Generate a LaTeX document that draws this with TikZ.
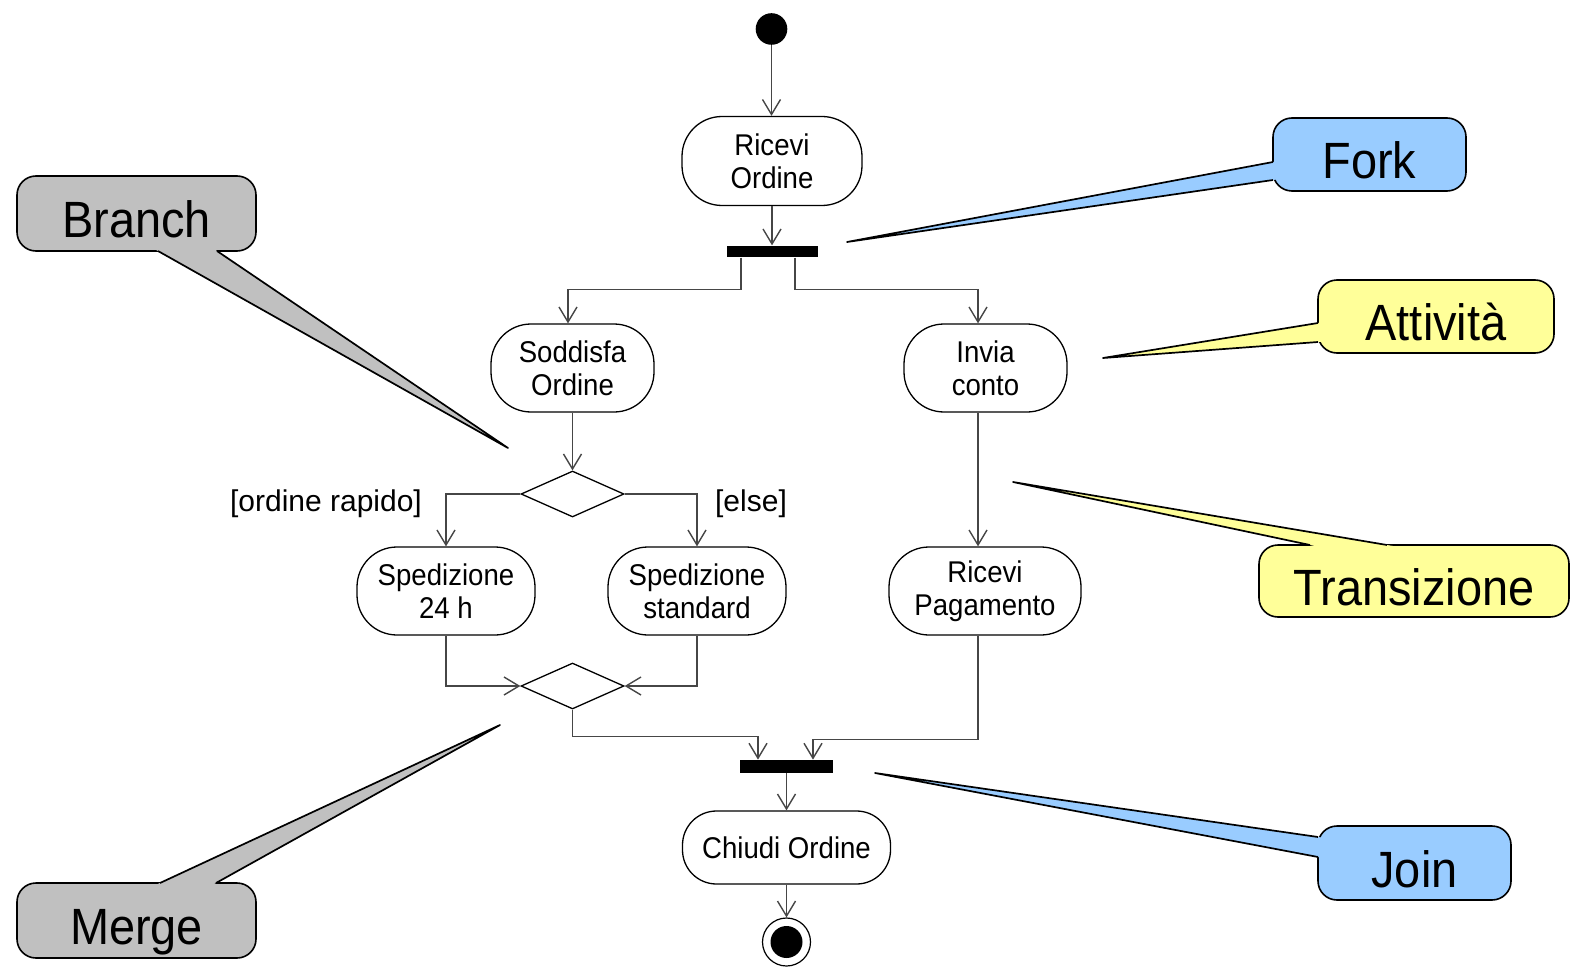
\documentclass[tikz,border=0pt]{standalone}
\usepackage{fontspec}
\setmainfont{Liberation Sans}
\newfontfamily\narrowsans[FakeStretch=0.92]{Liberation Sans}
\usetikzlibrary{shapes.geometric,arrows.meta,calc}

\definecolor{notegray}{RGB}{192,192,192}
\definecolor{noteblue}{RGB}{153,204,255}
\definecolor{noteyellow}{RGB}{255,255,153}
\definecolor{wire}{RGB}{70,70,70}

\begin{document}
\begin{tikzpicture}[x=0.5pt,y=-0.5pt,
  flow/.style={draw=wire, line width=0.7pt, -{Straight Barb[length=7.5pt,width=9pt]}},
  act/.style={draw, line width=0.65pt, rounded corners=20pt, align=center, inner sep=0pt,
              font=\narrowsans\fontsize{15}{16.5}\selectfont},
  syncbar/.style={fill=black, inner sep=0pt, minimum width=46pt, minimum height=5.75pt},
  choice/.style={diamond, draw, line width=0.65pt, inner sep=0pt, minimum width=51.5pt, minimum height=23pt},
  guard/.style={inner sep=0pt, font=\fontsize{15}{16.5}\selectfont},
  note/.style={draw, line width=0.8pt, rounded corners=9.5pt, inner sep=0pt,
               text height=24pt, text depth=0pt, font=\narrowsans\fontsize{25.5}{30}\selectfont},
  tail/.style={draw, line width=0.85pt, line join=round}]

\fill[white] (0,0) rectangle (1589,968);
\useasboundingbox (0,0) rectangle (1589,968);

% --- activity nodes ---
\node[circle, fill=black, inner sep=0pt, minimum size=15.8pt] (start) at (771.5,29) {};
\node[act, minimum width=90pt, minimum height=44.5pt] (ricevi) at (772,161) {Ricevi\\Ordine};
\node[syncbar, minimum width=45.5pt] (fork) at (772.5,251.5) {};
\node[act, minimum width=81.5pt, minimum height=44pt] (sodd) at (572.5,368) {Soddisfa\\Ordine};
\node[act, minimum width=81.5pt, minimum height=44pt] (invia) at (985.5,368) {Invia\\conto};
\node[choice] (branch) at (572.5,494) {};
\node[act, minimum width=89pt, minimum height=44pt] (sp24) at (446,591) {Spedizione\\24 h};
\node[act, minimum width=89pt, minimum height=44pt] (spstd) at (697,591) {Spedizione\\standard};
\node[act, minimum width=96pt, minimum height=44pt] (ricpag) at (985,591) {Ricevi\\Pagamento};
\node[choice] (merge) at (572.5,686) {};
\node[syncbar, minimum width=46.5pt, minimum height=6.5pt] (join) at (786.5,766.5) {};
\node[act, rounded corners=17pt, minimum width=104pt, minimum height=36.5pt] (chiudi) at (786.5,847.5) {Chiudi Ordine};
\node[circle, draw, line width=0.6pt, inner sep=0pt, minimum size=24pt] (final) at (786.5,942) {};
\node[circle, fill=black, inner sep=0pt, minimum size=16pt] (finaldot) at (final) {};

% --- guards ---
\node[guard] (gfast) at (326,504) {[ordine rapido]};
\node[guard] (gelse) at (751,504) {[else]};

% --- transitions ---
\draw[flow] (start) -- (start |- ricevi.north);
\draw[flow] (ricevi) -- (ricevi |- fork.north);
\draw[flow] ([xshift=-15.75pt]fork.south) -- ++(0,32) -| ([xshift=-2.25pt]sodd.north);
\draw[flow] ([xshift=11.25pt]fork.south) -- ++(0,32) -| ([xshift=-3.75pt]invia.north);
\draw[flow] (sodd.south) -- (branch.north);
\draw[flow] (branch.west) -| (sp24.north);
\draw[flow] (branch.east) -| (spstd.north);
\draw[flow] ([xshift=-3.75pt]invia.south) -- ([xshift=-3.5pt]ricpag.north);
\draw[flow] (sp24.south) |- (merge.west);
\draw[flow] (spstd.south) |- (merge.east);
\draw[flow] (merge.south) -- ++(0,27) -| ([xshift=-14.25pt]join.north);
\draw[flow] ([xshift=-3.5pt]ricpag.south) -- ++(0,104) -| ([xshift=13.25pt]join.north);
\draw[flow] (join.south) -- (join.south |- chiudi.north);
\draw[flow] (chiudi.south) -- (final.north);

% --- callouts ---
\node[note, fill=notegray, minimum width=119.5pt, minimum height=37.5pt] (branchnote) at (136.5,213.5) {Branch};
\fill[notegray] ($(508,448)!1.05!(158,251)$) -- (508,448) -- ($(508,448)!1.05!(217,251)$) -- cycle;
\draw[tail] (158,251) -- (508,448) -- (217,251);

\node[note, fill=notegray, minimum width=119.5pt, minimum height=37.5pt] (mergenote) at (136.5,920.5) {Merge};
\fill[notegray] ($(500,725)!1.05!(160,883)$) -- (500,725) -- ($(500,725)!1.05!(216,883)$) -- cycle;
\draw[tail] (160,883) -- (500,725) -- (216,883);

\node[note, fill=noteblue, minimum width=96.5pt, minimum height=36.5pt] (forknote) at (1369.5,154.5) {Fork};
\fill[noteblue] ($(847,242)!1.05!(1273,162)$) -- (847,242) -- ($(847,242)!1.05!(1273,180)$) -- cycle;
\draw[tail] (1273,162) -- (847,242) -- (1273,180);

\node[note, fill=noteyellow, minimum width=118pt, minimum height=36.5pt] (actnote) at (1436,316.5) {Attività};
\fill[noteyellow] ($(1103,358)!1.06!(1318,323)$) -- (1103,358) -- ($(1103,358)!1.06!(1318,342)$) -- cycle;
\draw[tail] (1318,323) -- (1103,358) -- (1318,342);

\node[note, fill=noteyellow, minimum width=155pt, minimum height=36pt] (transnote) at (1414,581) {Transizione};
\fill[noteyellow] ($(1013,482)!1.05!(1310,545)$) -- (1013,482) -- ($(1013,482)!1.05!(1387,545)$) -- cycle;
\draw[tail] (1310,545) -- (1013,482) -- (1387,545);

\node[note, fill=noteblue, minimum width=96.5pt, minimum height=37pt] (joinnote) at (1414.5,863) {Join};
\fill[noteblue] ($(875,773)!1.05!(1318,837)$) -- (875,773) -- ($(875,773)!1.05!(1318,857)$) -- cycle;
\draw[tail] (1318,837) -- (875,773) -- (1318,857);

\end{tikzpicture}
\end{document}
